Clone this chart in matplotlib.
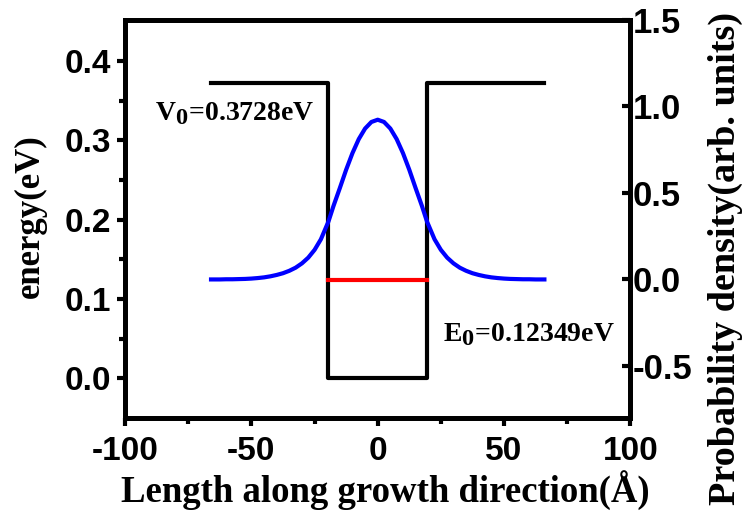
import matplotlib
matplotlib.use("Agg")
import matplotlib.pyplot as plt
import matplotlib._mathtext as mtext
import numpy as np

# potential well profile (Å, eV)
well_x = [-66, -19.5, -19.5, 19.5, 19.5, 66]
well_v = [0.3728, 0.3728, 0.0, 0.0, 0.3728, 0.3728]
E0 = 0.12349

# probability density (right half, symmetric)
psi_x = [0, 2.5, 5, 7.5, 10, 12.5, 15, 17.5, 19.5, 22.5, 25, 27.5, 30, 32.5,
         35, 37.5, 40, 42.5, 45, 47.5, 50, 52.5, 55, 57.5, 60, 62.5, 66]
psi_y = [0.923, 0.910, 0.872, 0.811, 0.730, 0.634, 0.528, 0.425, 0.335, 0.232, 0.171,
         0.126, 0.093, 0.068, 0.050, 0.036, 0.026, 0.018, 0.012, 0.008, 0.005,
         0.003, 0.002, 0.001, 0.001, 0.0, 0.0]

x_full = np.concatenate([-np.array(psi_x[::-1]), np.array(psi_x[1:])])
y_full = np.concatenate([np.array(psi_y[::-1]), np.array(psi_y[1:])])

plt.rcParams['font.family'] = 'Liberation Sans'
plt.rcParams['font.weight'] = 'bold'
plt.rcParams['axes.unicode_minus'] = False
plt.rcParams['mathtext.fontset'] = 'custom'
plt.rcParams['mathtext.rm'] = 'Liberation Serif:bold'
plt.rcParams['mathtext.bf'] = 'Liberation Serif:bold'
mtext.SHRINK_FACTOR = 0.88  # bigger subscripts, like the original

fig = plt.figure(figsize=(7.45, 5.23), dpi=100)
ax = fig.add_axes([0.168, 0.201, 0.678, 0.761])
ax2 = ax.twinx()

ax.plot(well_x, well_v, color='black', lw=3)
ax.plot([well_x[1], well_x[3]], [E0, E0], color='red', lw=3)
ax2.plot(x_full, y_full, color='blue', lw=3)

ax.set_xlim(-100, 100)
ax.set_ylim(-0.05, 0.452)
ax2.set_ylim(-0.8, 1.5)

ax.set_xticks([-100, -50, 0, 50, 100])
ax.set_xticks([-75, -25, 25, 75], minor=True)
ax.set_yticks([0.0, 0.1, 0.2, 0.3, 0.4])
ax.set_yticks([0.05, 0.15, 0.25, 0.35], minor=True)
ax2.set_yticks([-0.5, 0.0, 0.5, 1.0, 1.5])

ax.tick_params(axis='x', which='major', direction='out', length=6, width=3,
               labelsize=24, pad=7, top=False)
ax.tick_params(axis='y', which='major', direction='out', length=6, width=3,
               labelsize=24, pad=4, right=False)
ax.tick_params(axis='both', which='minor', direction='out', length=4, width=3,
               top=False, right=False)
ax2.tick_params(axis='y', which='major', direction='in', length=6, width=3,
                labelsize=25, pad=2)

for a in (ax, ax2):
    for s in a.spines.values():
        s.set_linewidth(3.5)

serif = {'family': 'Liberation Serif', 'weight': 'bold'}
ax.set_xlabel('Length along growth direction(Å)', fontdict=serif, fontsize=26.5, labelpad=2)
ax.xaxis.label.set_x(0.515)
ax.set_ylabel('energy(eV)', fontdict=serif, fontsize=25)
ax.yaxis.set_label_coords(-0.155, 0.507)
ax2.set_ylabel('Probability density(arb. units)', fontdict=serif, fontsize=27.5)
ax2.yaxis.set_label_coords(1.154, 0.40)

ax.text(-88.3, 0.325, r'V$_\mathbf{0}$=0.3728eV', fontdict=serif, fontsize=20)
ax.text(25.8, 0.047, r'E$_\mathbf{0}$=0.12349eV', fontdict=serif, fontsize=20)

fig.savefig('out.png', dpi=100)
plt.close(fig)
